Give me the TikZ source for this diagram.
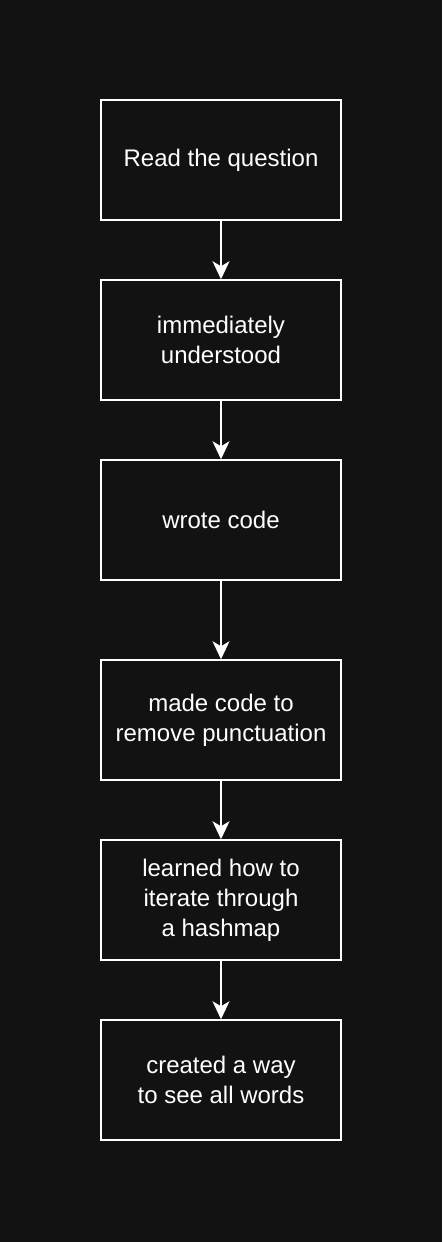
\documentclass[tikz,border=0pt]{standalone}
\usepackage{fontspec}
\setmainfont{Liberation Sans}
\usetikzlibrary{arrows.meta}
\definecolor{bg}{HTML}{121212}
\tikzset{
  stepbox/.style={draw=white, line width=1.5pt, fill=bg, minimum width=240pt, minimum height=120pt, inner sep=0pt, text=white, align=center, font=\fontsize{24pt}{30pt}\selectfont},
  flow/.style={draw=white, line width=1.5pt, -{Stealth[length=18pt, width=17pt, inset=5pt]}}
}
\begin{document}
\begin{tikzpicture}[x=1pt,y=-1pt]
\fill[bg] (0,0) rectangle (442,1242);
\useasboundingbox (0,0) rectangle (442,1242);
\node[stepbox] (a) at (221,160) {Read the question};
\node[stepbox] (b) at (221,340) {immediately\\ understood};
\node[stepbox] (c) at (221,520) {wrote code};
\node[stepbox] (d) at (221,720) {made code to\\remove punctuation};
\node[stepbox] (e) at (221,900) {learned how to\\iterate through\\a hashmap};
\node[stepbox] (f) at (221,1080) {created a way\\to see all words};
\draw[flow] (a) -- (b);
\draw[flow] (b) -- (c);
\draw[flow] (c) -- (d);
\draw[flow] (d) -- (e);
\draw[flow] (e) -- (f);
\end{tikzpicture}
\end{document}
